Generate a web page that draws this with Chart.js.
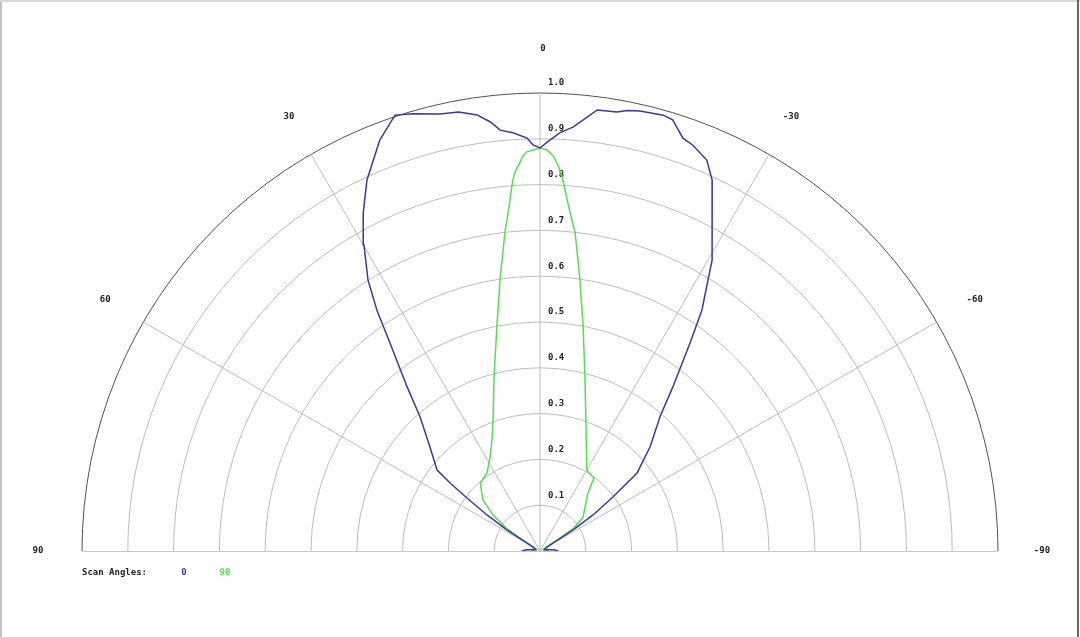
<!DOCTYPE html>
<html>
<head>
<meta charset="utf-8">
<script src="https://cdn.jsdelivr.net/npm/chart.js@4.4.0/dist/chart.umd.min.js"></script>
<style>
  body { margin: 0; background: #fff; }
  #wrap { width: 1080px; height: 637px; position: relative; }
</style>
</head>
<body>
<div id="wrap"><canvas id="graph"></canvas></div>
<script>
// Scan angle 0 (blue) - angle in degrees (positive = left), relative intensity
const blueAngles = [90, 85, 75, 62, 58.4, 57.5, 55.8, 54.0, 52.9, 51.8, 46.6, 41.8, 39.0, 35.8, 34.1, 32.4, 29.9, 27.6, 25.0, 21.3, 18.4, 16.2, 12.9, 10.5, 8.2, 6.6, 5.4, 3.7, 1.8, 1.0, 0,
  -1.0, -2.7, -4.5, -6.2, -7.4, -9.9, -11.3, -12.8, -15.8, -17.1, -19.1, -20.6, -23.1, -24.9, -27.5, -30.6, -31.8, -33.9, -35.8, -39.0, -41.8, -46.6, -51.2, -53.5, -55.8, -57.5, -58.4, -62, -75, -85, -90];
const blueValues = [0.04, 0.03, 0.01, 0.015, 0.033, 0.085, 0.140, 0.197, 0.246, 0.286, 0.331, 0.393, 0.461, 0.560, 0.635, 0.701, 0.771, 0.833, 0.894, 0.963, 1.003, 0.994, 0.979, 0.975, 0.962, 0.943, 0.923, 0.915, 0.902, 0.887, 0.880,
  0.893, 0.914, 0.929, 0.953, 0.971, 0.973, 0.981, 0.985, 0.989, 0.985, 0.954, 0.947, 0.928, 0.893, 0.814, 0.738, 0.696, 0.634, 0.560, 0.461, 0.393, 0.331, 0.272, 0.198, 0.140, 0.085, 0.033, 0.015, 0.01, 0.03, 0.04];

// Scan angle 90 (green)
const greenAngles = [90, 75, 60, 57.5, 55.8, 52.6, 48.2, 41.4, 34.2, 28.0, 23.4, 19.7, 14.8, 10.9, 8.4, 6.3, 5.4, 4.2, 3.6, 3.0, 2.5, 1.9, 0,
  -1.0, -1.9, -2.5, -3.0, -3.5, -5.1, -6.3, -8.4, -10.9, -14.5, -19.3, -30.1, -36.5, -39.6, -51.7, -55.8, -57.5, -60, -75, -90];
const greenValues = [0.02, 0.01, 0.01, 0.05, 0.09, 0.129, 0.167, 0.197, 0.206, 0.232, 0.264, 0.304, 0.393, 0.498, 0.598, 0.699, 0.741, 0.812, 0.834, 0.848, 0.863, 0.872, 0.880,
  0.876, 0.863, 0.848, 0.833, 0.812, 0.741, 0.699, 0.598, 0.498, 0.392, 0.303, 0.204, 0.198, 0.164, 0.120, 0.09, 0.05, 0.01, 0.01, 0.02];

const angleTicks = [90, 60, 30, 0, -30, -60, -90];
const radialTicks = [0.1, 0.2, 0.3, 0.4, 0.5, 0.6, 0.7, 0.8, 0.9, 1.0];
const scanLabels = ['0', '90'];
const scanColors = ['#3a3a9a', '#55dd55'];

const FONT = 'bold 9px "DejaVu Sans Mono", monospace';

// polar -> cartesian (0 deg at top, positive angles to the left)
function toXY(angles, values) {
  return angles.map(function (a, i) {
    const t = a * Math.PI / 180;
    return { x: -values[i] * Math.sin(t), y: values[i] * Math.cos(t) };
  });
}

const polarGrid = {
  id: 'polarGrid',
  beforeDatasetsDraw(chart) {
    const ctx = chart.ctx;
    const xs = chart.scales.x, ys = chart.scales.y;
    const cx = xs.getPixelForValue(0), cy = ys.getPixelForValue(0);
    const R = xs.getPixelForValue(1) - cx;
    ctx.save();
    ctx.lineWidth = 1;
    // rings
    radialTicks.forEach(function (r) {
      ctx.strokeStyle = r === 1.0 ? '#505050' : '#bcbcbc';
      ctx.beginPath();
      ctx.arc(cx, cy, r * R, Math.PI, 2 * Math.PI);
      ctx.stroke();
    });
    // spokes
    ctx.strokeStyle = '#bcbcbc';
    angleTicks.forEach(function (a) {
      if (Math.abs(a) === 90) return;
      const t = a * Math.PI / 180;
      ctx.beginPath();
      ctx.moveTo(cx, cy);
      ctx.lineTo(xs.getPixelForValue(-Math.sin(t)), ys.getPixelForValue(Math.cos(t)));
      ctx.stroke();
    });
    // baseline
    ctx.strokeStyle = '#c8c8c8';
    ctx.beginPath();
    ctx.moveTo(xs.getPixelForValue(-1), cy + 0.5);
    ctx.lineTo(xs.getPixelForValue(1), cy + 0.5);
    ctx.stroke();

    // labels
    ctx.font = FONT;
    ctx.fillStyle = '#222';
    ctx.textBaseline = 'middle';
    ctx.textAlign = 'left';
    radialTicks.forEach(function (r) {
      ctx.fillText(r.toFixed(1), cx + 8, ys.getPixelForValue(r) - 10);
    });
    ctx.textAlign = 'center';
    angleTicks.forEach(function (a) {
      const t = a * Math.PI / 180;
      ctx.fillText(String(a), xs.getPixelForValue(-1.096 * Math.sin(t)) + (a === 0 ? 3 : 0), ys.getPixelForValue(1.096 * Math.cos(t)));
    });

    // legend
    ctx.textAlign = 'left';
    ctx.fillText('Scan Angles:', xs.getPixelForValue(-1), cy + 22);
    ctx.textAlign = 'center';
    ctx.fillStyle = scanColors[0];
    ctx.fillText(scanLabels[0], 184, cy + 22);
    ctx.fillStyle = scanColors[1];
    ctx.fillText(scanLabels[1], 225, cy + 22);
    ctx.restore();
  },
  afterDraw(chart) {
    // picture frame
    const ctx = chart.ctx;
    ctx.save();
    ctx.fillStyle = '#c4c4c4';
    ctx.fillRect(0, 0, 2, chart.height);
    ctx.fillStyle = '#d8d8d8';
    ctx.fillRect(0, 0, chart.width, 2);
    ctx.fillStyle = '#666';
    ctx.fillRect(chart.width - 3, 0, 2, chart.height);
    ctx.restore();
  }
};

var ctx = document.getElementById('graph').getContext('2d');
var myChart = new Chart(ctx, {
  type: 'scatter',
  data: {
    datasets: [
      { label: scanLabels[0], data: toXY(blueAngles, blueValues), showLine: true, borderColor: scanColors[0], borderWidth: 1.5, pointRadius: 0, tension: 0 },
      { label: scanLabels[1], data: toXY(greenAngles, greenValues), showLine: true, borderColor: scanColors[1], borderWidth: 1.5, pointRadius: 0, tension: 0 }
    ]
  },
  options: {
    responsive: true,
    maintainAspectRatio: false,
    animation: false,
    layout: { padding: { left: 82, right: 82, top: 93, bottom: 86 } },
    scales: {
      x: { type: 'linear', min: -1, max: 1, display: false },
      y: { type: 'linear', min: 0, max: 1, display: false }
    },
    plugins: {
      legend: { display: false },
      tooltip: { enabled: false }
    }
  },
  plugins: [polarGrid]
});
</script>
</body>
</html>
